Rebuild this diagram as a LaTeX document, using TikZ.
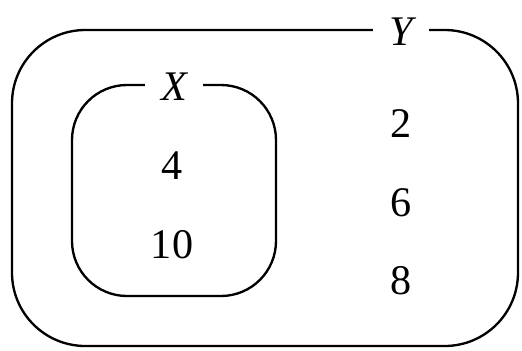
\documentclass[tikz,border=0pt]{standalone}
\usepackage{fontspec}
\setmainfont{Liberation Serif}
\usepackage{tikz}
\usetikzlibrary{positioning}
\tikzset{
  setbox/.style={draw=black,line width=2pt},
  setname/.style={fill=white,inner xsep=14pt,inner ysep=2pt,font=\fontsize{36}{42}\selectfont\itshape},
  elem/.style={inner sep=0pt,font=\fontsize{36}{42}\selectfont}
}

\begin{document}
\begin{tikzpicture}[x=0.03cm,y=-0.03cm]
  \useasboundingbox (0,0) rectangle (522,350);
  \draw[setbox,rounded corners=2.2cm] (12,30) rectangle (518,346);
  \draw[setbox,rounded corners=1.65cm] (72,85) rectangle (276,296);

  \node[setname] (ylab) at (401,32) {Y};
  \node[setname] (xlab) at (174,87) {X};

  \node[elem] (a4) at (172,166) {4};
  \node[elem] (a10) at (172,245) {10};
  \node[elem] (a2) at (401,124) {2};
  \node[elem] (a6) at (401,203) {6};
  \node[elem] (a8) at (401,281) {8};
\end{tikzpicture}
\end{document}
